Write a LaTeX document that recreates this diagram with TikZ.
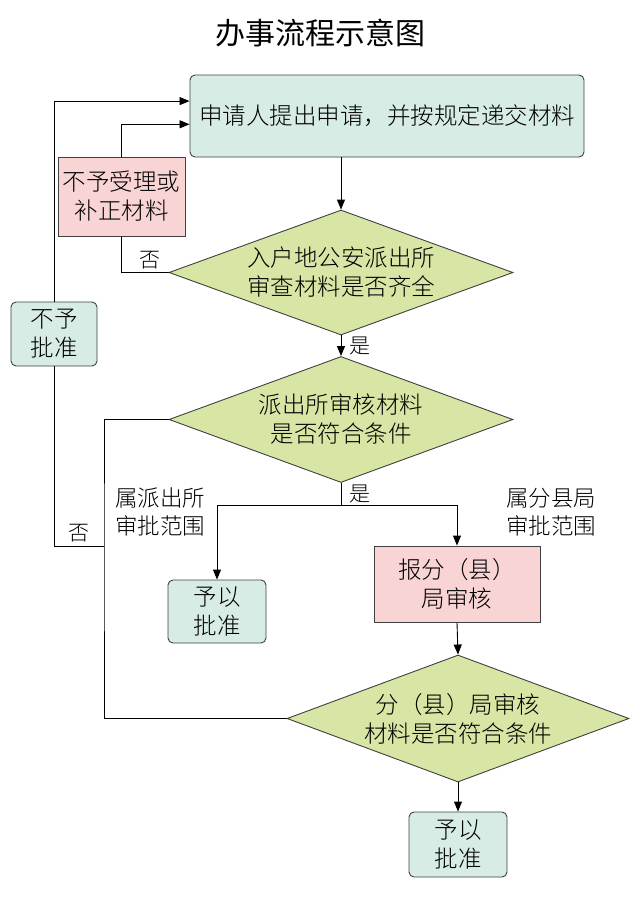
\documentclass[tikz,border=0pt]{standalone}
\usepackage{fontspec}
\setmainfont{Noto Sans CJK SC}
\newfontfamily\thincjk{Noto Sans CJK SC Light}
\usepackage{tikz}
\usetikzlibrary{shapes.geometric,arrows.meta,calc}

\definecolor{okfill}{RGB}{214,236,228}
\definecolor{nofill}{RGB}{248,212,212}
\definecolor{askfill}{RGB}{215,230,164}

\begin{document}
\begin{tikzpicture}[x=1bp, y=-1bp, line width=0.9bp,
  >={Triangle[length=10bp,width=8bp]},
  okbox/.style={draw=black!75, fill=okfill, rounded corners=5bp,
    inner sep=0pt, align=center, font=\FLOWFONT},
  nobox/.style={draw=black!75, fill=nofill,
    inner sep=0pt, align=center, font=\FLOWFONT},
  ask/.style={diamond, draw=black!75, fill=askfill, aspect=2.75,
    inner sep=0pt, align=center, font=\FLOWFONT},
  remark/.style={align=center, font=\REMARKFONT},
  yesno/.style={font=\YESNOFONT}]

  \newcommand\FLOWFONT{\thincjk\fontsize{23.5bp}{29bp}\selectfont}
  \newcommand\REMARKFONT{\thincjk\fontsize{22.5bp}{28bp}\selectfont}
  \newcommand\YESNOFONT{\thincjk\fontsize{21bp}{24bp}\selectfont}

  \useasboundingbox (0,0) rectangle (630,906);

  \node[font=\fontsize{30bp}{36bp}\selectfont] (title) at (320,33) {办事流程示意图};

  \node[okbox, minimum width=394bp, minimum height=82bp] (apply) at (387,116)
    {申请人提出申请，并按规定递交材料};
  \node[nobox, minimum width=127bp, minimum height=79bp] (reject) at (121.5,196.5)
    {不予受理或\\补正材料};
  \node[ask, minimum width=344bp, minimum height=125bp] (check1) at (341,272.5)
    {入户地公安派出所\\审查材料是否齐全};
  \node[okbox, minimum width=86bp, minimum height=64bp] (deny) at (54,334)
    {不予\\批准};
  \node[ask, minimum width=344bp, minimum height=126bp] (check2) at (341,419.5)
    {派出所审核材料\\是否符合条件};

  \node[remark] (scopeA) at (160,512) {属派出所\\审批范围};
  \node[remark] (scopeB) at (551,512) {属分县局\\审批范围};

  \node[okbox, minimum width=98bp, minimum height=63bp] (approve1) at (217,611.5)
    {予以\\批准};
  \node[nobox, minimum width=166bp, minimum height=76bp] (county) at (457,584)
    {报分（县）\\局审核};
  \node[ask, minimum width=342bp, minimum height=127bp] (check3) at (458,718.5)
    {分（县）局审核\\材料是否符合条件};
  \node[okbox, minimum width=98bp, minimum height=65bp] (approve2) at (458,844.5)
    {予以\\批准};

  \coordinate (fork) at (341,505);
  \coordinate (noA) at (104,546);

  % main line
  \draw[->] (check1.north |- apply.south) -- (check1.north);
  \draw[->] (check1.south) -- node[yesno, right, xshift=5bp]{是} (check2.north);
  \draw (check2.south) -- node[yesno, right, xshift=5bp]{是} (fork);
  \draw[->] (fork) -| (approve1.north);
  \draw[->] (fork) -| (county.north);
  \draw[->] (county.south) -- (check3.north);
  \draw[->] (check3.south) -- (approve2.north);

  % back to the applicant
  \draw (check1.west) -| node[yesno, pos=.2, above]{否} (reject.south);
  \draw[->] (reject.north) |- ($(apply.north west)!.6!(apply.south west)$);
  \draw (check2.west) -| (noA) |- (check3.west);
  \draw (noA) -| node[yesno, pos=.25, above]{否} (deny.south);
  \draw[->] (deny.north) |- ($(apply.north west)!.32!(apply.south west)$);

\end{tikzpicture}
\end{document}
